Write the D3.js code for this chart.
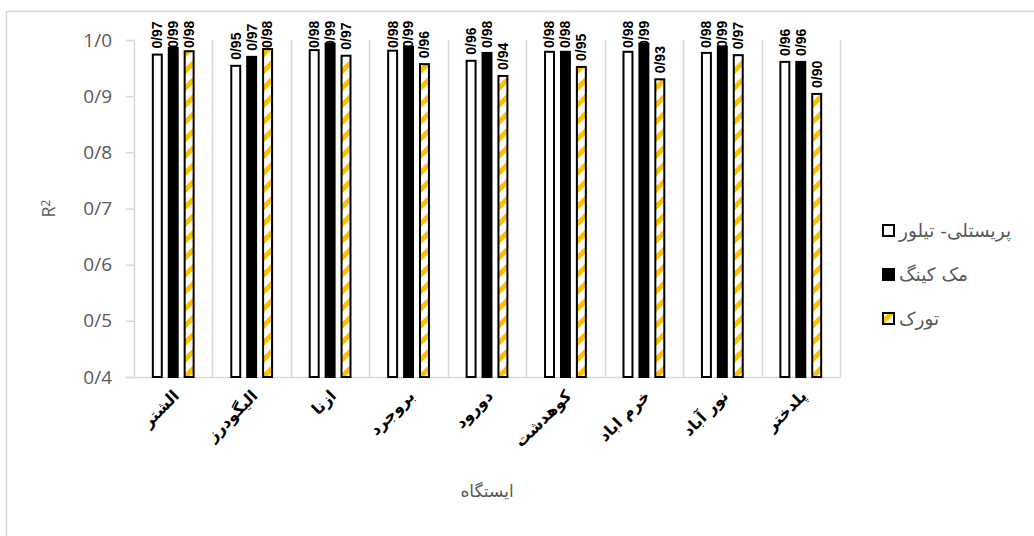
<!DOCTYPE html>
<html>
<head>
<meta charset="utf-8">
<script src="https://cdn.jsdelivr.net/npm/d3@7"></script>
<style>
  html, body { margin: 0; padding: 0; background: #fff; }
  svg { display: block; }
</style>
</head>
<body>
<svg id="chart" width="1034" height="536"></svg>
<script>
const categories = ["الشتر", "الیگودرز", "ازنا", "بروجرد", "دورود", "کوهدشت", "خرم  اباد", "نور آباد", "پلدختر"];
const seriesNames = ["پریستلی- تیلور", "مک کینگ", "تورک"];
const priestleyTaylor = [0.974, 0.954, 0.982, 0.981, 0.963, 0.979, 0.979, 0.977, 0.961];
const makkink = [0.986, 0.970, 0.993, 0.988, 0.977, 0.979, 0.993, 0.988, 0.961];
const turc = [0.980, 0.984, 0.972, 0.957, 0.936, 0.952, 0.930, 0.973, 0.904];
const yTicks = [0.4, 0.5, 0.6, 0.7, 0.8, 0.9, 1.0];
const yTitle = "R";
const xTitle = "ایستگاه";

const seriesValues = [priestleyTaylor, makkink, turc];
const data = categories.map((c, i) => ({
  cat: c,
  vals: seriesNames.map((s, j) => ({ s: s, j: j, v: seriesValues[j][i] }))
}));

const svg = d3.select("#chart");
const W = 1034, H = 536;
const plot = { left: 134, right: 840, top: 40, bottom: 377 };

// chart border
svg.append("rect").attr("x", 6.5).attr("y", 11.5).attr("width", W + 20).attr("height", H + 20)
  .attr("fill", "#fff").attr("stroke", "#d9d9d9").attr("stroke-width", 1.5);

const defs = svg.append("defs");
const pat = defs.append("pattern").attr("id", "hatch").attr("patternUnits", "userSpaceOnUse")
  .attr("width", 12).attr("height", 12).attr("patternTransform", "rotate(45)");
pat.append("rect").attr("width", 12).attr("height", 12).attr("fill", "#fff");
pat.append("rect").attr("width", 5).attr("height", 12).attr("fill", "#FFC000");

const x0 = d3.scaleBand().domain(categories).range([plot.left, plot.right]).paddingInner(0).paddingOuter(0);
const bw = x0.bandwidth();
const x1 = d3.scaleBand().domain(d3.range(seriesNames.length)).range([bw * 0.24, bw * 0.76]).paddingInner(0.4375).paddingOuter(0);
const y = d3.scaleLinear().domain([0.4, 1.0]).range([plot.bottom, plot.top]);

const fills = ["#ffffff", "#000000", "url(#hatch)"];

// category separators
svg.append("g").selectAll("line").data(d3.range(categories.length + 1).slice(1))
  .join("line")
  .attr("x1", i => Math.round(plot.left + i * bw) + 0.5).attr("x2", i => Math.round(plot.left + i * bw) + 0.5)
  .attr("y1", plot.top).attr("y2", plot.bottom)
  .attr("stroke", "#d9d9d9").attr("stroke-width", 1.5);

// y axis
const yAxis = d3.axisLeft(y).tickValues(yTicks).tickSize(8).tickPadding(14)
  .tickFormat(d => d3.format(".1f")(d).replace(".", "/"));
const gy = svg.append("g").attr("transform", `translate(${plot.left},0)`).call(yAxis);
gy.select(".domain").attr("stroke", "#d9d9d9").attr("stroke-width", 1.5);
gy.selectAll(".tick line").attr("stroke", "#d9d9d9").attr("stroke-width", 1.5);
gy.selectAll(".tick text").attr("fill", "#595959").style("font-family", "'Open Sans', sans-serif").style("font-size", "19px");

// x axis baseline
const xAxis = d3.axisBottom(x0).tickSize(0).tickFormat("");
const gx = svg.append("g").attr("transform", `translate(0,${plot.bottom})`).call(xAxis);
gx.select(".domain").attr("stroke", "#d9d9d9").attr("stroke-width", 1.5);

// bars
const groups = svg.append("g").selectAll("g").data(data).join("g")
  .attr("transform", d => `translate(${x0(d.cat)},0)`);

groups.selectAll("rect").data(d => d.vals).join("rect")
  .attr("x", d => x1(d.j))
  .attr("y", d => y(d.v))
  .attr("width", x1.bandwidth())
  .attr("height", d => y(0.4) - y(d.v))
  .attr("fill", d => fills[d.j])
  .attr("stroke", "#000")
  .attr("stroke-width", 2);

// value labels
const labelLen = 29;
groups.selectAll("text.val").data(d => d.vals).join("text")
  .attr("class", "val")
  .attr("transform", d => {
    const cx = x1(d.j) + x1.bandwidth() / 2;
    const by = Math.max(y(d.v) - 6, 19 + labelLen);
    return `translate(${cx},${by}) rotate(-90)`;
  })
  .attr("dy", "0.35em")
  .attr("text-anchor", "start")
  .style("font-family", "'Liberation Sans', Arial, sans-serif")
  .style("font-weight", "bold")
  .style("font-size", "14px")
  .attr("fill", "#000")
  .text(d => d3.format(".2f")(d.v).replace(".", "/"));

// category labels
svg.append("g").selectAll("text").data(categories).join("text")
  .attr("transform", c => `translate(${x0(c) + bw / 2 + 3},${plot.bottom + 16}) rotate(-45)`)
  .attr("text-anchor", "end")
  .attr("dy", "0.35em")
  .style("font-family", "'DejaVu Sans', sans-serif")
  .style("font-weight", "bold")
  .style("font-size", "16px")
  .attr("fill", "#000")
  .text(c => c);

// axis titles
svg.append("text").attr("x", (plot.left + plot.right) / 2).attr("y", 497)
  .attr("text-anchor", "middle").attr("fill", "#595959")
  .style("font-family", "'DejaVu Sans', sans-serif").style("font-size", "17px")
  .text(xTitle);

const yt = svg.append("text").attr("transform", `translate(55,${(plot.top + plot.bottom) / 2}) rotate(-90)`)
  .attr("text-anchor", "middle").attr("fill", "#595959")
  .style("font-family", "'Open Sans', sans-serif").style("font-size", "18px");
yt.append("tspan").text(yTitle);
yt.append("tspan").attr("dy", "-0.45em").style("font-size", "12px").text("2");

// legend
const lg = svg.append("g").selectAll("g").data(seriesNames).join("g")
  .attr("transform", (s, i) => `translate(882,${231 + i * 44})`);
lg.append("rect").attr("x", 1).attr("y", -6).attr("width", 11).attr("height", 11)
  .attr("fill", (s, i) => fills[i]).attr("stroke", "#000").attr("stroke-width", 2);
lg.append("text").attr("x", 17).attr("y", 0).attr("dy", "0.35em")
  .attr("text-anchor", "start").attr("fill", "#595959")
  .style("font-family", "'DejaVu Sans', sans-serif").style("font-size", "18.5px")
  .text(s => s);
</script>
</body>
</html>
